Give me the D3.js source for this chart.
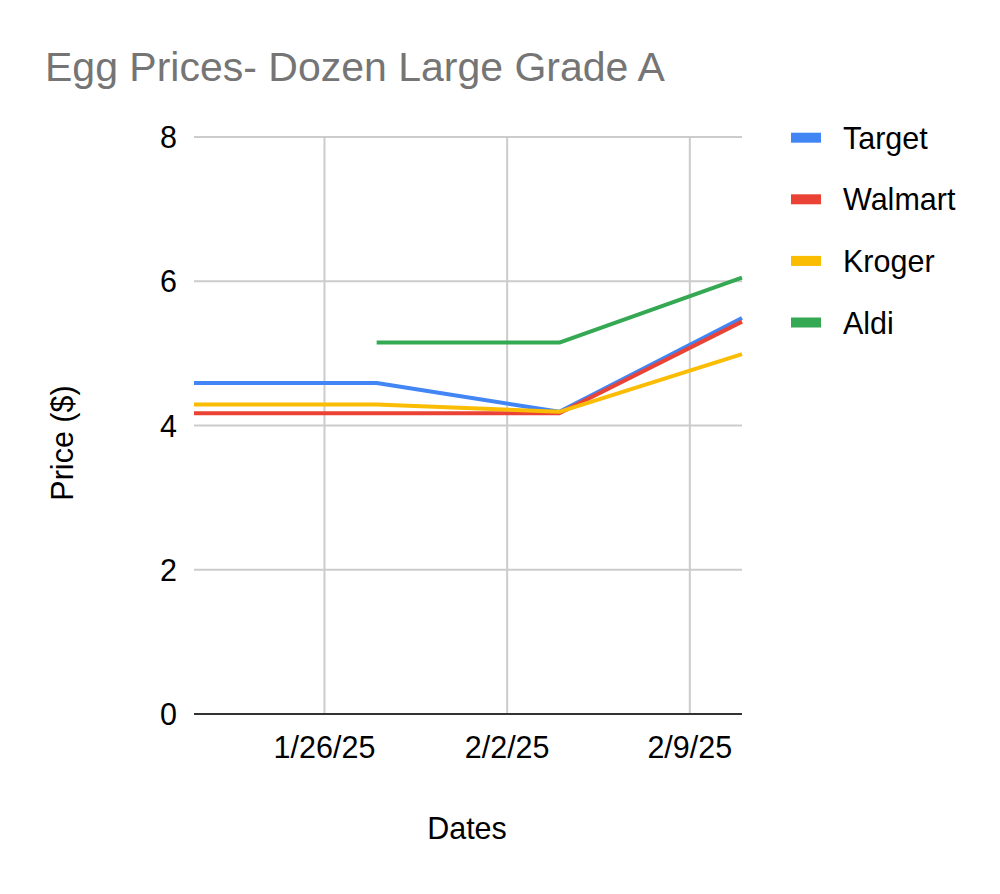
<!DOCTYPE html>
<html>
<head>
<meta charset="utf-8">
<script src="https://cdn.jsdelivr.net/npm/d3@7"></script>
<style>
  html, body { margin: 0; padding: 0; background: #fff; }
  svg { display: block; font-family: Arial, "Liberation Sans", sans-serif; }
</style>
</head>
<body>
<svg id="chart" width="1000" height="894"></svg>
<script>
// ---- data ----
const dates = ["2025-01-21", "2025-01-28", "2025-02-04", "2025-02-11"];
const seriesNames = ["Target", "Walmart", "Kroger", "Aldi"];
const target  = [4.59, 4.59, 4.19, 5.49];
const walmart = [4.17, 4.17, 4.17, 5.44];
const kroger  = [4.29, 4.29, 4.19, 4.99];
const aldi    = [null, 5.15, 5.15, 6.05];
const yTicks = [0, 2, 4, 6, 8];
const xTickDates = ["2025-01-26", "2025-02-02", "2025-02-09"];
const xTickLabels = ["1/26/25", "2/2/25", "2/9/25"];
const colors = ["#4285F4", "#EA4335", "#FBBC04", "#34A853"];
const titleText = "Egg Prices- Dozen Large Grade A";
const xTitle = "Dates";
const yTitle = "Price ($)";

(function () {
const parse = d3.timeParse("%Y-%m-%d");
const seriesValues = [target, walmart, kroger, aldi];
const fs = 30.5;

const svg = d3.select("#chart");
const pLeft = 194, pRight = 742, pTop = 137, pBottom = 714;

const x = d3.scaleTime()
  .domain([parse(dates[0]), parse(dates[dates.length - 1])])
  .range([pLeft, pRight]);
const y = d3.scaleLinear().domain([0, 8]).range([pBottom, pTop]);

// title
svg.append("text")
  .attr("x", 45).attr("y", 81)
  .attr("font-size", 41).attr("fill", "#757575")
  .text(titleText);

// horizontal gridlines
svg.append("g").selectAll("line")
  .data(yTicks.filter(t => t !== 0))
  .join("line")
  .attr("x1", pLeft).attr("x2", pRight)
  .attr("y1", d => y(d)).attr("y2", d => y(d))
  .attr("stroke", "#cccccc").attr("stroke-width", 2);

// vertical gridlines
svg.append("g").selectAll("line")
  .data(xTickDates)
  .join("line")
  .attr("x1", d => x(parse(d))).attr("x2", d => x(parse(d)))
  .attr("y1", pTop).attr("y2", pBottom)
  .attr("stroke", "#cccccc").attr("stroke-width", 2);

// y tick labels
svg.append("g").selectAll("text")
  .data(yTicks)
  .join("text")
  .attr("x", 177).attr("y", d => y(d) + 11)
  .attr("text-anchor", "end")
  .attr("font-size", fs).attr("fill", "#000")
  .text(d => d);

// x tick labels
svg.append("g").selectAll("text")
  .data(xTickDates)
  .join("text")
  .attr("x", d => x(parse(d))).attr("y", 758)
  .attr("text-anchor", "middle")
  .attr("font-size", fs).attr("fill", "#000")
  .text((d, i) => xTickLabels[i]);

// lines
const line = d3.line()
  .defined(d => d.v !== null)
  .x(d => x(d.date))
  .y(d => y(d.v));

seriesValues.forEach((vals, i) => {
  const pts = dates.map((d, j) => ({ date: parse(d), v: vals[j] }));
  svg.append("path")
    .datum(pts)
    .attr("fill", "none")
    .attr("stroke", colors[i])
    .attr("stroke-width", 4)
    .attr("stroke-linejoin", "round")
    .attr("d", line);
});

// baseline
svg.append("line")
  .attr("x1", pLeft).attr("x2", pRight)
  .attr("y1", y(0)).attr("y2", y(0))
  .attr("stroke", "#333333").attr("stroke-width", 2);

// axis titles
svg.append("text")
  .attr("x", 467).attr("y", 839)
  .attr("text-anchor", "middle")
  .attr("font-size", fs).attr("fill", "#000")
  .text(xTitle);

svg.append("text")
  .attr("transform", "translate(73,443) rotate(-90)")
  .attr("text-anchor", "middle")
  .attr("font-size", fs).attr("fill", "#000")
  .text(yTitle);

// legend
const legend = svg.append("g");
seriesNames.forEach((name, i) => {
  const cy = 137.7 + i * 61.6;
  legend.append("rect")
    .attr("x", 791).attr("y", cy - 5).attr("width", 30).attr("height", 10)
    .attr("fill", colors[i]);
  legend.append("text")
    .attr("x", 843).attr("y", cy + 11)
    .attr("font-size", fs).attr("fill", "#000")
    .text(name);
});
})();
</script>
</body>
</html>
